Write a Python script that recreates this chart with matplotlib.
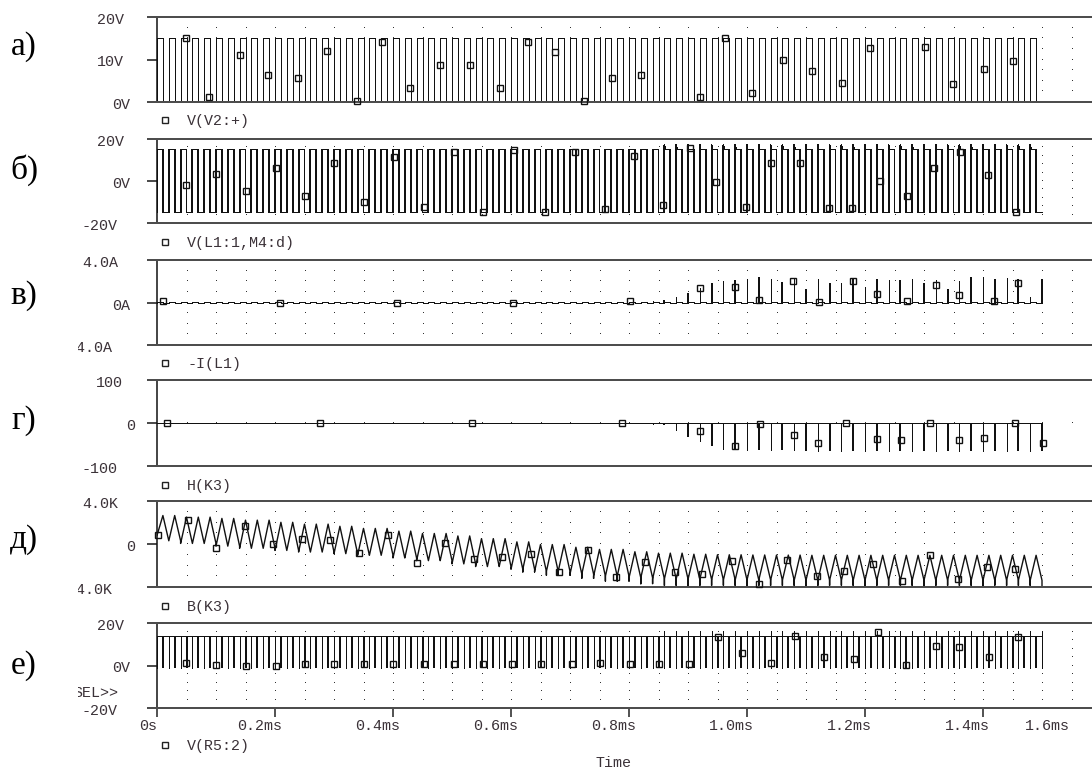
import numpy as np
import matplotlib
matplotlib.use("Agg")
import matplotlib.pyplot as plt
from matplotlib.patches import Rectangle
from matplotlib.lines import Line2D

# ---------------- chart data ----------------
period_ms = 0.02          # switching period
end_ms = 1.50             # end of the simulated traces
overshoot_start_ms = 0.86 # overshoot spikes on б) and е) start here
spike_start_ms = 0.84     # current / field spikes on в) and г) start here
env_step_ms = 0.05        # step of the д) envelope tables

panel_letters = ["а)", "б)", "в)", "г)", "д)", "е)"]
trace_names = ["V(V2:+)", "V(L1:1,M4:d)", "-I(L1)", "H(K3)", "B(K3)", "V(R5:2)"]

x_ticks_ms = [0.0, 0.2, 0.4, 0.6, 0.8, 1.0, 1.2, 1.4, 1.6]
x_tick_labels = ["0s", "0.2ms", "0.4ms", "0.6ms", "0.8ms", "1.0ms", "1.2ms", "1.4ms", "1.6ms"]

# а) V(V2:+)
a_ylim = (0, 20)
a_yticks = [0, 10, 20]
a_ylabels = ["0V", "10V", "20V"]
a_grid_rows = [2.5, 5, 7.5, 10, 12.5, 15, 17.5]
a_low, a_high = 0.0, 15.0
a_mk_t = [0.049, 0.088, 0.141, 0.188, 0.239, 0.288, 0.339, 0.381, 0.429, 0.480,
          0.531, 0.581, 0.629, 0.675, 0.724, 0.771, 0.820, 0.920, 0.963, 1.008,
          1.061, 1.110, 1.161, 1.208, 1.302, 1.349, 1.402, 1.451]
a_mk_v = [15.0, 1.2, 11.0, 6.4, 5.6, 12.0, 0.2, 14.1, 3.3, 8.7,
          8.7, 3.3, 14.1, 11.8, 0.2, 5.6, 6.4, 1.2, 15.0, 2.1,
          9.9, 7.4, 4.5, 12.8, 13.0, 4.2, 7.7, 9.6]

# б) V(L1:1,M4:d)
b_ylim = (-20, 20)
b_yticks = [-20, 0, 20]
b_ylabels = ["-20V", "0V", "20V"]
b_grid_rows = [-16, -12, -8, -4, 0, 4, 8, 12, 16]
b_low, b_high, b_over = -15.0, 15.0, 17.0
b_mk_t = [0.049, 0.100, 0.151, 0.202, 0.251, 0.300, 0.351, 0.402, 0.453, 0.503,
          0.553, 0.605, 0.658, 0.708, 0.759, 0.808, 0.858, 0.903, 0.947, 0.998,
          1.041, 1.090, 1.139, 1.178, 1.225, 1.271, 1.317, 1.361, 1.408, 1.456]
b_mk_v = [-1.9, 3.3, -4.8, 6.2, -7.1, 8.6, -10.0, 11.4, -12.4, 13.8,
          -14.8, 15.0, -14.8, 13.8, -13.3, 11.9, -11.4, 15.7, -0.5, -12.4,
          8.6, 8.6, -12.9, -12.9, 0.0, -7.1, 6.2, 13.8, 2.9, -14.8]

# в) -I(L1)
v_ylim = (-4, 4)
v_yticks = [-4, 0, 4]
v_ylabels = ["-4.0A", "0A", "4.0A"]
v_grid_rows = [-3, -2, -1, 0, 1, 2, 3]
v_ripple = 0.08
v_spike_heights = [0.1, 0.25, 0.5, 0.9, 1.4,
                   1.81, 2.0, 2.1, 2.18, 2.43, 2.18, 1.96, 2.28, 1.25, 2.18,
                   1.81, 1.81, 2.18, 1.43, 2.18, 2.12, 2.12, 2.18, 1.81, 2.12,
                   1.25, 2.06, 2.43, 2.43, 2.18, 2.28, 2.18, 0.49, 2.18]
v_mk_t = [0.010, 0.209, 0.407, 0.603, 0.802, 0.920, 0.980, 1.020, 1.078, 1.122,
          1.180, 1.220, 1.271, 1.320, 1.359, 1.419, 1.459]
v_mk_v = [0.17, 0.0, 0.0, 0.0, 0.1, 1.4, 1.49, 0.2, 2.06, 0.05,
          2.06, 0.77, 0.14, 1.68, 0.68, 0.17, 1.87]

# г) H(K3)
g_ylim = (-100, 100)
g_yticks = [-100, 0, 100]
g_ylabels = ["-100", "0", "100"]
g_grid_rows = [0]
g_spike_depths = [-3, -5, -16, -32, -43, -53, -60, -63, -63, -63,
                  -62, -63, -63, -65, -65, -64, -65, -65, -65, -64,
                  -65, -65, -65, -65, -64, -65, -65, -65, -65, -64,
                  -65, -65, -65, -65]
g_mk_t = [0.017, 0.276, 0.534, 0.788, 0.920, 0.980, 1.022, 1.079, 1.121, 1.167,
          1.220, 1.261, 1.310, 1.359, 1.401, 1.454, 1.501]
g_mk_v = [0, 0, 0, 0, -18.6, -53, -3, -29, -45.7, 0,
          -37, -40, 0, -40, -34, 0, -45.7]

# д) B(K3)   (values in K)
d_ylim = (-4, 4)
d_yticks = [-4, 0, 4]
d_ylabels = ["-4.0K", "0", "4.0K"]
d_grid_rows = [-3, -2, -1, 0, 1, 2, 3]
d_start = 0.8
d_peaks = [2.65, 2.5, 2.38, 2.22, 2.02, 1.85, 1.65, 1.45, 1.2, 0.98,
           0.75, 0.5, 0.2, -0.05, -0.3, -0.5, -0.72, -0.85, -0.95, -1.0,
           -1.02, -1.03, -1.05, -1.05, -1.05, -1.05, -1.05, -1.05, -1.05, -1.05]
d_troughs = [0.3, 0.05, -0.2, -0.4, -0.6, -0.75, -0.9, -1.05, -1.3, -1.55,
             -1.85, -2.1, -2.35, -2.55, -2.8, -3.0, -3.15, -3.25, -3.3, -3.35,
             -3.35, -3.38, -3.38, -3.38, -3.38, -3.38, -3.38, -3.38, -3.38, -3.38]
d_drops = [0.3, 0.05, -0.2, -0.4, -0.6, -0.75, -0.9, -1.05, -1.3, -1.55,
           -1.85, -2.1, -2.6, -2.9, -3.2, -3.45, -3.7, -3.85, -3.85, -3.85,
           -3.85, -3.85, -3.85, -3.85, -3.85, -3.85, -3.85, -3.85, -3.85, -3.85]
d_mk_t = [0.002, 0.053, 0.100, 0.149, 0.197, 0.246, 0.293, 0.342, 0.392, 0.441,
          0.488, 0.537, 0.585, 0.634, 0.681, 0.731, 0.778, 0.827, 0.878, 0.924,
          0.975, 1.020, 1.068, 1.119, 1.164, 1.214, 1.263, 1.310, 1.358, 1.407, 1.454]
d_mk_v = [0.81, 2.2, -0.4, 1.65, -0.03, 0.44, 0.34, -0.87, 0.81, -1.8,
          0.07, -1.42, -1.24, -0.96, -2.63, -0.59, -3.1, -1.7, -2.63, -2.8,
          -1.6, -3.75, -1.52, -3.0, -2.54, -1.89, -3.47, -1.05, -3.28, -2.17, -2.35]

# е) V(R5:2)
e_ylim = (-20, 20)
e_yticks = [-20, 0, 20]
e_ylabels = ["-20V", "0V", "20V"]
e_grid_rows = [-16, -12, -8, -4, 0, 4, 8, 12, 16]
e_high, e_dip, e_over = 13.9, -1.2, 16.2
e_mk_t = [0.049, 0.100, 0.151, 0.201, 0.250, 0.300, 0.351, 0.400, 0.452, 0.503,
          0.553, 0.602, 0.651, 0.703, 0.751, 0.801, 0.851, 0.901, 0.950, 0.991,
          1.040, 1.081, 1.131, 1.181, 1.222, 1.269, 1.320, 1.360, 1.411, 1.459]
e_mk_v = [1.2, 0.2, 0.0, 0.0, 0.5, 0.5, 0.5, 0.5, 0.5, 0.5,
          0.5, 0.5, 0.5, 0.5, 1.0, 0.7, 0.7, 0.6, 13.3, 5.7,
          1.0, 14.0, 3.9, 3.1, 15.6, 0.2, 9.3, 8.8, 3.9, 13.6]

# ---------------- layout / style ----------------
W, H = 1092, 769
X0, X1 = 157, 1092
PX_PER_MS = 590.0
panel_px = [(17, 102), (139, 223), (260, 345), (380, 466), (501, 587), (623, 708)]
letter_y = [47, 170, 296, 421, 540, 666]
legend_y = [121, 243, 364, 486, 607, 746]
label_right = {"20V": 124, "10V": 124, "0V": 130, "-20V": 117, "4.0A": 118,
               "0A": 130, "-4.0A": 112, "100": 123, "0": 135, "-100": 117,
               "4.0K": 118, "-4.0K": 112}

MONO = "Liberation Mono"
LBL_COLOR = "#3b3238"
TRACE = "#111111"
FRAME = "#4d4d4d"
LW1 = 0.72  # 1 px
LW2 = 1.44  # 2 px
FS = 10.8

fig = plt.figure(figsize=(W / 100, H / 100), dpi=100)
fig.patch.set_facecolor("white")

T = period_ms
n_per = int(round(end_ms / T))
xmax = (X1 - X0) / PX_PER_MS
grid_cols = np.arange(1, 32) * 0.05


def make_axes(i, ylim, yticks, ylabels, grid_rows):
    top, bot = panel_px[i]
    ax = fig.add_axes([X0 / W, 1 - bot / H, (X1 - X0) / W, (bot - top) / H])
    ax.set_xlim(0, xmax)
    ax.set_ylim(*ylim)
    ax.spines["right"].set_visible(False)
    for s in ("top", "bottom"):
        ax.spines[s].set_color(FRAME)
        ax.spines[s].set_linewidth(1.44)
    ax.spines["left"].set_color("#111111")
    ax.spines["left"].set_linewidth(1.1)
    ax.set_xticks([])
    ax.set_yticks(yticks)
    ax.tick_params(axis="y", length=7.2, width=1.44, color=FRAME,
                   direction="out", labelleft=False)
    for val, lab in zip(yticks, ylabels):
        ax.annotate(lab, xy=(0, val), xycoords=("axes fraction", "data"),
                    xytext=(label_right[lab] - X0, -3), textcoords="offset pixels",
                    ha="right", va="center", fontsize=FS, family=MONO,
                    color=LBL_COLOR, annotation_clip=False)
    gx, gy = np.meshgrid(grid_cols, grid_rows)
    ax.plot(gx.ravel(), gy.ravel(), ls="none", marker=",", color="#333333", zorder=1)
    return ax


def markers(ax, t, v):
    ax.plot(t, v, ls="none", marker="s", ms=5.0, mfc="none", mec=TRACE, mew=1.0,
            zorder=3, clip_on=False)


def trace(ax, t, v, aa=False, lw=LW1):
    ax.plot(t, v, color=TRACE, lw=lw, antialiased=aa, zorder=2)


def spikes(ax, t, base, tops):
    t = np.asarray(t)
    tops = np.asarray(tops)
    ax.vlines(t[0::2], base, tops[0::2], color=TRACE, lw=LW1, antialiased=False, zorder=2)
    ax.vlines(t[1::2], base, tops[1::2], color=TRACE, lw=LW2, antialiased=False, zorder=2)


# ---- а)
ax = make_axes(0, a_ylim, a_yticks, a_ylabels, a_grid_rows)
ta, va = [], []
for k in range(n_per):
    t0 = k * T
    ta += [t0, t0, t0 + T / 2, t0 + T / 2]
    va += [a_low, a_high, a_high, a_low]
ta.append(end_ms); va.append(a_low)
ax.fill_between([0, end_ms - T / 2], a_low, a_high, color="white", lw=0, zorder=1.5)
trace(ax, ta, va)
markers(ax, a_mk_t, a_mk_v)

# ---- б)
ax = make_axes(1, b_ylim, b_yticks, b_ylabels, b_grid_rows)
tb, vb = [], []
for k in range(n_per):
    t0 = k * T
    if t0 >= overshoot_start_ms - 1e-9:
        tb += [t0, t0, t0 + 0.0008, t0 + T / 2, t0 + T / 2]
        vb += [b_low, b_over, b_high, b_high, b_low]
    else:
        tb += [t0, t0, t0 + T / 2, t0 + T / 2]
        vb += [b_low, b_high, b_high, b_low]
tb.append(end_ms); vb.append(b_low)
ax.fill_between([0, end_ms], b_low, b_high, color="white", lw=0, zorder=1.5)
trace(ax, tb, vb)
markers(ax, b_mk_t, b_mk_v)

# ---- в)
ax = make_axes(2, v_ylim, v_yticks, v_ylabels, v_grid_rows)
tv, vv = [], []
for k in range(n_per):
    t0 = k * T
    tv += [t0, t0, t0 + T / 2, t0 + T / 2]
    vv += [-v_ripple, v_ripple, v_ripple, -v_ripple]
tv.append(end_ms); vv.append(-v_ripple)
trace(ax, tv, vv)
v_spike_t = spike_start_ms + T * np.arange(len(v_spike_heights))
spikes(ax, v_spike_t, 0, v_spike_heights)
markers(ax, v_mk_t, v_mk_v)

# ---- г)
ax = make_axes(3, g_ylim, g_yticks, g_ylabels, g_grid_rows)
trace(ax, [0, end_ms], [0, 0])
g_spike_t = spike_start_ms + T * np.arange(len(g_spike_depths))
spikes(ax, g_spike_t, 0, g_spike_depths)
markers(ax, g_mk_t, g_mk_v)

# ---- д)
ax = make_axes(4, d_ylim, d_yticks, d_ylabels, d_grid_rows)
td, vd = [], []
for k in range(n_per):
    t0 = k * T
    i = min(int((t0 + T / 2) / env_step_ms), len(d_peaks) - 1)
    lo = d_start if k == 0 else d_troughs[i]
    td += [t0, t0 + T / 2, t0 + T, t0 + T]
    vd += [lo, d_peaks[i], d_troughs[i], d_drops[i]]
trace(ax, td, vd, aa=True, lw=1.0)
markers(ax, d_mk_t, d_mk_v)

# ---- е)
ax = make_axes(5, e_ylim, e_yticks, e_ylabels, e_grid_rows)
ax.fill_between([0, end_ms], e_dip, e_high, color="white", lw=0, zorder=1.5)
trace(ax, [0, end_ms], [e_high, e_high])
dip_t = np.arange(0, 2 * n_per + 1) * (T / 2)
spikes(ax, dip_t, e_high, np.full(dip_t.shape, e_dip))
over_t = np.arange(n_per + 1) * T
over_t = over_t[over_t >= overshoot_start_ms - 1e-9]
ax.vlines(over_t, e_high, e_over, color=TRACE, lw=LW1, antialiased=False, zorder=2)
markers(ax, e_mk_t, e_mk_v)
ax.set_xticks(x_ticks_ms[:-1])
ax.tick_params(axis="x", length=6.5, width=1.1, color="#222222", direction="out",
               labelbottom=False)
for t, lab in zip(x_ticks_ms, x_tick_labels):
    if lab == "0s":
        dx = 0
    elif t > xmax:
        dx = 1070 - (X0 + t * PX_PER_MS)
    else:
        dx = 7
    ax.annotate(lab, xy=(t, 0), xycoords=("data", "axes fraction"),
                xytext=(dx, -18), textcoords="offset pixels", ha="right", va="center",
                fontsize=FS, family=MONO, color=LBL_COLOR, annotation_clip=False)
ax.annotate("SEL>>", xy=(0, 0), xycoords="axes fraction",
            xytext=(118 - X0, 708 - 693), textcoords="offset pixels",
            ha="right", va="center", fontsize=FS, family=MONO, color=LBL_COLOR,
            annotation_clip=False)

# white strip that clips the left part of the axis labels
fig.add_artist(Rectangle((0, 0), 78 / W, 1, transform=fig.transFigure,
                         facecolor="white", edgecolor="none", zorder=1))

# panel letters
for lt, yc in zip(panel_letters, letter_y):
    fig.text(24 / W, 1 - yc / H, lt, ha="center", va="center", fontsize=24,
             family="Liberation Serif", color="black", zorder=3)

# trace legends
for name, yc in zip(trace_names, legend_y):
    fig.add_artist(Line2D([164.5 / W], [1 - (yc - 1.5) / H], transform=fig.transFigure,
                          ls="none", marker="s", ms=5.0, mfc="none", mec="#222222",
                          mew=1.0, zorder=3))
    fig.text(187 / W, 1 - yc / H, name, ha="left", va="center", fontsize=FS,
             family=MONO, color=LBL_COLOR, zorder=3)

fig.text(613 / W, 1 - 763 / H, "Time", ha="center", va="center", fontsize=FS,
         family=MONO, color=LBL_COLOR, zorder=3)

fig.savefig("out.png", dpi=100, facecolor="white")
